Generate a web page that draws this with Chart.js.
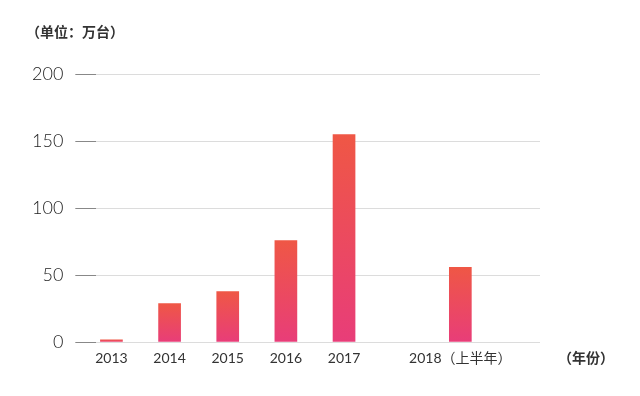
<!DOCTYPE html>
<html>
<head>
<meta charset="utf-8">
<script src="https://cdn.jsdelivr.net/npm/chart.js@4"></script>
<style>
  html, body { margin: 0; padding: 0; background: #fff; }
  #wrap { width: 640px; height: 396px; }
</style>
</head>
<body>
<div id="wrap"><canvas id="chart1"></canvas></div>
<script>
// data (万台); the empty slot keeps the gap before 2018
var years = ['2013', '2014', '2015', '2016', '2017', '', '2018（上半年）'];
var sales = [2, 29, 38, 76, 155, null, 56];
var yTicks = [0, 50, 100, 150, 200];
var unitText = '（单位：万台）';
var axisText = '（年份）';

var topColor = '#ef5745';
var bottomColor = '#e83d79';
var fontFamily = 'Lato, "Noto Sans CJK SC", sans-serif';

// each bar gets its own gradient, orange at the top to pink at the base
function barGradient(context) {
    var chart = context.chart;
    if (!chart.chartArea || context.raw == null) return topColor;
    var y = chart.scales.y;
    var top = y.getPixelForValue(context.raw);
    var base = y.getPixelForValue(0);
    var g = chart.ctx.createLinearGradient(0, top, 0, base);
    g.addColorStop(0, topColor);
    g.addColorStop(1, bottomColor);
    return g;
}

var extraText = {
    id: 'extraText',
    afterDraw: function (chart) {
        var c = chart.ctx;
        c.save();
        c.fillStyle = '#333';
        c.font = '600 14px "Noto Sans CJK SC", sans-serif';
        c.textBaseline = 'middle';
        c.textAlign = 'left';
        c.fillText(unitText, 26, 32);
        c.fillText(axisText, 558, 358);
        c.restore();
    }
};

var ctx1 = document.getElementById('chart1').getContext('2d');
var chart1 = new Chart(ctx1, {
    type: 'bar',
    data: {
        labels: years,
        datasets: [{
            label: '销量',
            data: sales,
            backgroundColor: barGradient,
            barPercentage: 0.39,
            categoryPercentage: 1
        }]
    },
    options: {
        responsive: true,
        maintainAspectRatio: false,
        animation: false,
        layout: {
            padding: { left: 20, right: 100, top: 74, bottom: 21 }
        },
        plugins: {
            legend: { display: false },
            tooltip: { enabled: false }
        },
        scales: {
            x: {
                grid: { display: false, drawTicks: false },
                border: { display: false },
                ticks: {
                    color: '#333',
                    font: { family: fontFamily, size: 14 },
                    padding: 8,
                    maxRotation: 0,
                    autoSkip: false
                },
                // pull the slots so 2013 sits near the left edge
                afterBuildTicks: function (scale) {
                    scale._startValue = -0.26;
                    scale._valueRange = 7.63;
                }
            },
            y: {
                min: 0,
                max: 200,
                afterBuildTicks: function (scale) {
                    scale.ticks = yTicks.map(function (v) { return { value: v }; });
                },
                grid: {
                    color: '#dcdcdc',
                    tickColor: '#888',
                    tickLength: 21,
                    lineWidth: 1
                },
                border: { display: false },
                ticks: {
                    color: '#222',
                    font: { family: fontFamily, size: 18, weight: '300' },
                    padding: 12
                }
            }
        }
    },
    plugins: [extraText]
});
</script>
</body>
</html>
